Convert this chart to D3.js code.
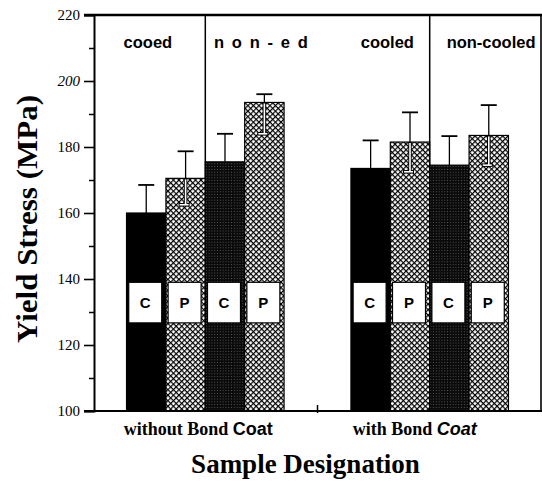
<!DOCTYPE html>
<html><head><meta charset="utf-8">
<script src="https://cdn.jsdelivr.net/npm/d3@7"></script>
<style>body{margin:0;background:#fff}svg{display:block}</style>
</head><body>
<svg id="chart" width="542" height="483"></svg>
<script>
// ---- data ----
const groups = ["without Bond Coat", "with Bond Coat"];
const headings = [["cooed", "n o n - e d"], ["cooled", "non-cooled"]];
const barLabels = ["C", "P", "C", "P"];
const barKinds = ["solid", "hatch", "dots", "hatch"];
const values = [[160, 170.5, 175.5, 193.5], [173.5, 181.5, 174.5, 183.5]];
const errHigh = [[168.5, 178.7, 184, 196], [182, 190.5, 183.3, 192.7]];
const errLow = [[null, 162.5, null, 184], [null, 172.5, null, 174.5]];
const yTicks = [100, 120, 140, 160, 180, 200, 220];
const yMinorTicks = [110, 130, 150, 170, 190, 210];
const boxRange = [126.7, 139];
const yTitle = "Yield Stress (MPa)";
const xTitle = "Sample Designation";

// ---- layout ----
const svg = d3.select("#chart");
const L = 94, R = 541, T = 15, B = 411;
const y = d3.scaleLinear().domain([100, 220]).range([B, T]);
const xg = d3.scaleBand().domain(groups).range([L, R]).paddingInner(0.298).paddingOuter(0.145);
const xb = d3.scaleBand().domain(d3.range(4)).range([0, xg.bandwidth()]).padding(0);

const defs = svg.append("defs");
const S = 3.9, lw = 1.2;
const hatch = defs.append("pattern").attr("id", "hatch").attr("patternUnits", "userSpaceOnUse")
  .attr("width", S).attr("height", S).attr("patternTransform", "rotate(45)");
hatch.append("rect").attr("width", S).attr("height", S).attr("fill", "#fff");
hatch.append("rect").attr("width", S).attr("height", lw).attr("fill", "#000");
hatch.append("rect").attr("width", lw).attr("height", S).attr("fill", "#000");
const dots = defs.append("pattern").attr("id", "dots").attr("patternUnits", "userSpaceOnUse")
  .attr("width", 2.8).attr("height", 2.8);
dots.append("rect").attr("width", 2.8).attr("height", 2.8).attr("fill", "#0a0a0a");
dots.append("circle").attr("cx", 1.4).attr("cy", 1.4).attr("r", 0.55).attr("fill", "#666");
const fillOf = k => k === "solid" ? "#000" : k === "hatch" ? "url(#hatch)" : "url(#dots)";

// dividers
groups.forEach((g, gi) => {
  const xd = xg(g) + xb(2);
  svg.append("line").attr("x1", xd).attr("x2", xd).attr("y1", T).attr("y2", B)
    .attr("stroke", "#000").attr("stroke-width", 1.5);
});

// bars
groups.forEach((g, gi) => {
  const gEl = svg.append("g").attr("transform", `translate(${xg(g)},0)`);
  values[gi].forEach((v, i) => {
    const x0 = xb(i), w = xb.bandwidth(), cx = x0 + w / 2;
    gEl.append("rect").attr("x", x0).attr("y", y(v)).attr("width", w).attr("height", y(100) - y(v))
      .attr("fill", fillOf(barKinds[i])).attr("stroke", "#000").attr("stroke-width", 1.2);
    // upper error
    gEl.append("line").attr("x1", cx).attr("x2", cx).attr("y1", y(v)).attr("y2", y(errHigh[gi][i]))
      .attr("stroke", "#000").attr("stroke-width", 1.3);
    gEl.append("line").attr("x1", cx - 8).attr("x2", cx + 8).attr("y1", y(errHigh[gi][i])).attr("y2", y(errHigh[gi][i]))
      .attr("stroke", "#000").attr("stroke-width", 1.8);
    // lower error (visible inside hatched bars)
    const lo = errLow[gi][i];
    if (lo != null) {
      gEl.append("line").attr("x1", cx).attr("x2", cx).attr("y1", y(v)).attr("y2", y(lo))
        .attr("stroke", "#000").attr("stroke-width", 3.5);
      gEl.append("line").attr("x1", cx - 7).attr("x2", cx + 4).attr("y1", y(lo)).attr("y2", y(lo))
        .attr("stroke", "#000").attr("stroke-width", 3.5);
      gEl.append("line").attr("x1", cx).attr("x2", cx).attr("y1", y(v) + 1).attr("y2", y(lo))
        .attr("stroke", "#fff").attr("stroke-width", 1.6);
      gEl.append("line").attr("x1", cx - 6).attr("x2", cx + 3).attr("y1", y(lo)).attr("y2", y(lo))
        .attr("stroke", "#fff").attr("stroke-width", 1.6);
    }
    // C / P boxes
    const bw = 33;
    gEl.append("rect").attr("x", cx - bw / 2 - 1).attr("y", y(boxRange[1])).attr("width", bw)
      .attr("height", y(boxRange[0]) - y(boxRange[1])).attr("fill", "#fff").attr("stroke", "#000").attr("stroke-width", 1.2);
    gEl.append("text").attr("x", cx - 1).attr("y", (y(boxRange[0]) + y(boxRange[1])) / 2 + 5.5)
      .attr("text-anchor", "middle").attr("font-family", "Liberation Sans, Arial, sans-serif")
      .attr("font-weight", "bold").attr("font-size", 15).text(barLabels[i]);
  });
});

// headings
const headingDx = [[-18, 17], [-3, 22]];
groups.forEach((g, gi) => {
  headings[gi].forEach((h, hi) => {
    const cx = xg(g) + xb(hi * 2 + 1);
    svg.append("text").attr("x", cx + headingDx[gi][hi]).attr("y", 48).attr("text-anchor", "middle")
      .attr("font-family", "Liberation Sans, Arial, sans-serif").attr("font-weight", "bold")
      .attr("font-size", 16.5).attr("letter-spacing", h.includes(" ") ? 1.6 : 0).text(h);
  });
});

// frame
svg.append("line").attr("x1", L - 10).attr("x2", R + 1).attr("y1", T).attr("y2", T).attr("stroke", "#000").attr("stroke-width", 2.5);
svg.append("line").attr("x1", R).attr("x2", R).attr("y1", T).attr("y2", B + 1).attr("stroke", "#000").attr("stroke-width", 1.6);
svg.append("line").attr("x1", L - 10).attr("x2", R + 1).attr("y1", B).attr("y2", B).attr("stroke", "#000").attr("stroke-width", 2);
svg.append("line").attr("x1", (L + R) / 2).attr("x2", (L + R) / 2).attr("y1", B - 6).attr("y2", B + 2).attr("stroke", "#000").attr("stroke-width", 1.5);

// y axis
const yAxis = d3.axisLeft(y).tickValues(yTicks).tickSize(10).tickPadding(4).tickFormat(d3.format("d"));
const ya = svg.append("g").attr("transform", `translate(${L},0)`).call(yAxis);
ya.select(".domain").attr("stroke-width", 2);
ya.selectAll(".tick line").attr("stroke-width", 1.6);
ya.selectAll(".tick text").attr("font-family", "Liberation Serif, Times New Roman, serif")
  .attr("font-size", 15).attr("fill", "#000")
  .attr("font-style", d => d === 200 ? "italic" : "normal");
const ym = svg.append("g").attr("transform", `translate(${L},0)`)
  .call(d3.axisLeft(y).tickValues(yMinorTicks).tickSize(5).tickFormat(""));
ym.select(".domain").remove();
ym.selectAll(".tick line").attr("stroke-width", 1.5);

// group labels
const groupDx = [-7, -15];
groups.forEach((g, gi) => {
  const words = g.split(" ");
  const last = words.pop();
  const t = svg.append("text").attr("x", xg(g) + xg.bandwidth() / 2 + groupDx[gi]).attr("y", 435)
    .attr("text-anchor", "middle").attr("font-weight", "bold").attr("font-size", 18);
  t.append("tspan").attr("font-family", "Liberation Serif, Times New Roman, serif").text(words.join(" ") + " ");
  t.append("tspan").attr("font-family", "Liberation Sans, Arial, sans-serif")
    .attr("font-style", gi === 1 ? "italic" : "normal").text(last);
});

// titles
svg.append("text").attr("x", (L + R) / 2 - 12).attr("y", 473).attr("text-anchor", "middle")
  .attr("font-family", "Liberation Serif, Times New Roman, serif").attr("font-weight", "bold")
  .attr("font-size", 27).text(xTitle);
svg.append("text").attr("transform", "translate(37,219) rotate(-90)").attr("text-anchor", "middle")
  .attr("font-family", "Liberation Serif, Times New Roman, serif").attr("font-weight", "bold")
  .attr("font-size", 29).attr("textLength", 248).attr("lengthAdjust", "spacingAndGlyphs").text(yTitle);
</script>
</body></html>
